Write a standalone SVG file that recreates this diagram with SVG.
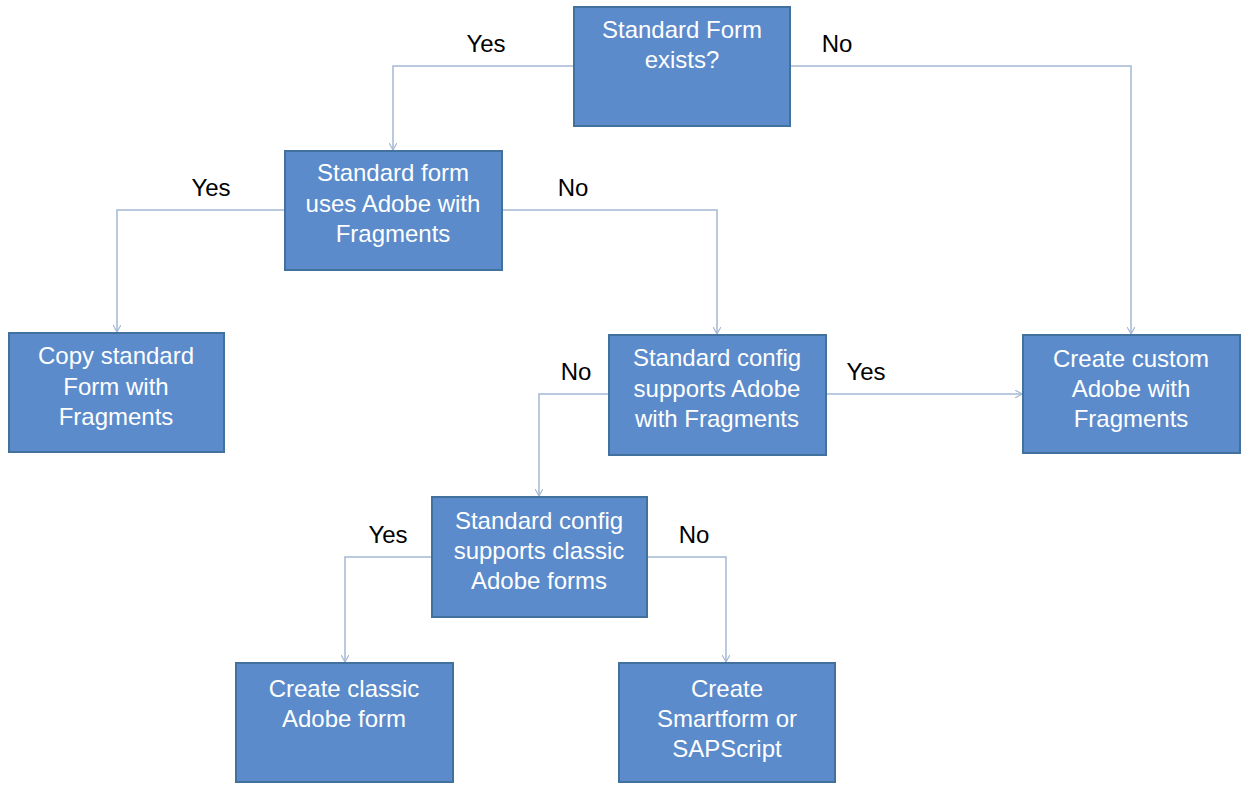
<svg xmlns="http://www.w3.org/2000/svg" width="1241" height="793" viewBox="0 0 1241 793">
<style>
.box{fill:#5B8BCB;stroke:#41719C;stroke-width:2}
.t{font-family:"Liberation Sans",Arial,sans-serif;font-size:24px;fill:#ffffff;text-anchor:middle}
.l{font-family:"Liberation Sans",Arial,sans-serif;font-size:24px;fill:#000000;text-anchor:middle}
.c{fill:none;stroke:#A5B8D4;stroke-width:1.5}
</style>
<defs>
<marker id="a" viewBox="0 0 10 10" refX="9" refY="5" markerWidth="8" markerHeight="8" markerUnits="userSpaceOnUse" orient="auto">
<path d="M0,0 L9,5 L0,10" fill="none" stroke="#A5B8D4" stroke-width="1.5"/>
</marker>
</defs>
<rect width="1241" height="793" fill="#ffffff"/>
<g id="connectors">
<path class="c" d="M574,66 H393 V150" marker-end="url(#a)"/>
<path class="c" d="M790,66 H1131 V334" marker-end="url(#a)"/>
<path class="c" d="M285,210 H117 V332" marker-end="url(#a)"/>
<path class="c" d="M502,210 H717 V334" marker-end="url(#a)"/>
<path class="c" d="M826,394 H1022" marker-end="url(#a)"/>
<path class="c" d="M609,394 H539 V496" marker-end="url(#a)"/>
<path class="c" d="M432,557 H345 V662" marker-end="url(#a)"/>
<path class="c" d="M647,557 H726 V662" marker-end="url(#a)"/>
<text class="l" x="486" y="52">Yes</text>
<text class="l" x="837" y="52">No</text>
<text class="l" x="211" y="196">Yes</text>
<text class="l" x="573" y="196">No</text>
<text class="l" x="866" y="380">Yes</text>
<text class="l" x="576" y="380">No</text>
<text class="l" x="388" y="543">Yes</text>
<text class="l" x="694" y="543">No</text>
</g>
<g id="n1">
<rect class="box" x="574" y="7" width="216" height="119"/>
<text class="t" x="682" y="38">Standard Form</text>
<text class="t" x="682" y="68">exists?</text>
</g>
<g id="n2">
<rect class="box" x="285" y="151" width="217" height="119"/>
<text class="t" x="393" y="181">Standard form</text>
<text class="t" x="393" y="212">uses Adobe with</text>
<text class="t" x="393" y="242">Fragments</text>
</g>
<g id="n3">
<rect class="box" x="9" y="333" width="215" height="119"/>
<text class="t" x="116" y="364">Copy standard</text>
<text class="t" x="116" y="395">Form with</text>
<text class="t" x="116" y="425">Fragments</text>
</g>
<g id="n4">
<rect class="box" x="609" y="335" width="217" height="120"/>
<text class="t" x="717" y="366">Standard config</text>
<text class="t" x="717" y="397">supports Adobe</text>
<text class="t" x="717" y="427">with Fragments</text>
</g>
<g id="n5">
<rect class="box" x="1023" y="335" width="217" height="118"/>
<text class="t" x="1131" y="367">Create custom</text>
<text class="t" x="1131" y="397">Adobe with</text>
<text class="t" x="1131" y="427">Fragments</text>
</g>
<g id="n6">
<rect class="box" x="432" y="497" width="215" height="120"/>
<text class="t" x="539" y="529">Standard config</text>
<text class="t" x="539" y="559">supports classic</text>
<text class="t" x="539" y="589">Adobe forms</text>
</g>
<g id="n7">
<rect class="box" x="236" y="663" width="217" height="119"/>
<text class="t" x="344" y="697">Create classic</text>
<text class="t" x="344" y="727">Adobe form</text>
</g>
<g id="n8">
<rect class="box" x="619" y="663" width="216" height="119"/>
<text class="t" x="727" y="697">Create</text>
<text class="t" x="727" y="727">Smartform or</text>
<text class="t" x="727" y="757">SAPScript</text>
</g>
</svg>
